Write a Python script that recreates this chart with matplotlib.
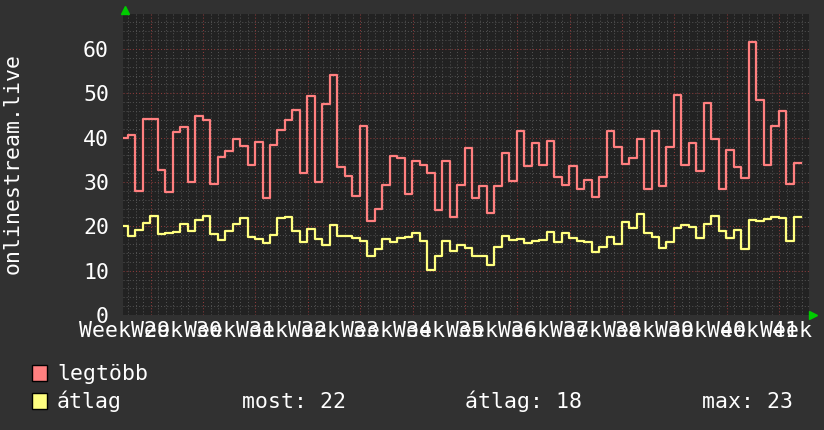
import numpy as np
import matplotlib
matplotlib.use('Agg')
import matplotlib.pyplot as plt
from matplotlib.patches import Rectangle

# ── Data (daily values, oldest first) ────────────────────────────────────

legtobb = [40.0, 40.5, 28.0, 44.2, 44.2, 32.6, 27.8, 41.3, 42.5, 30.1,
           44.8, 43.9, 29.6, 35.7, 37.1, 39.8, 38.1, 33.9, 39.1, 26.4,
           38.4, 41.8, 44.1, 46.3, 32.1, 49.3, 29.9, 47.6, 54.2, 33.3,
           31.4, 26.9, 42.7, 21.2, 23.9, 29.3, 35.9, 35.5, 27.4, 34.8,
           33.9, 32.1, 23.7, 34.8, 22.1, 29.4, 37.6, 26.5, 29.1, 23.1,
           29.2, 36.6, 30.3, 41.6, 33.5, 38.9, 33.9, 39.3, 31.2, 29.4,
           33.7, 28.5, 30.5, 26.7, 31.2, 41.4, 37.8, 34.1, 35.5, 39.7,
           28.5, 41.6, 29.0, 37.8, 49.7, 33.9, 38.9, 32.5, 47.9, 39.7,
           28.5, 37.2, 33.3, 30.8, 61.5, 48.4, 33.9, 42.7, 46.1, 29.6,
           34.4]

atlag = [20.1, 17.9, 19.2, 20.8, 22.3, 18.2, 18.4, 18.8, 20.5, 19.0,
         21.4, 22.3, 18.2, 16.9, 19.0, 20.5, 21.9, 17.5, 17.2, 16.2,
         18.1, 21.9, 22.1, 19.0, 16.5, 19.4, 17.2, 15.8, 20.3, 17.9,
         17.8, 17.3, 16.7, 13.3, 14.9, 17.2, 16.5, 17.4, 17.6, 18.6,
         16.8, 10.2, 13.2, 16.8, 14.5, 15.8, 15.2, 13.2, 13.2, 11.3,
         15.4, 17.8, 16.9, 17.2, 16.3, 16.7, 16.9, 18.7, 16.5, 18.6,
         17.4, 16.8, 16.5, 14.3, 15.4, 17.6, 16.1, 21.0, 19.7, 22.7,
         18.6, 17.6, 15.2, 16.5, 19.7, 20.4, 19.9, 17.4, 20.6, 22.4,
         19.0, 17.4, 19.2, 14.9, 21.5, 21.3, 21.7, 22.1, 21.9, 16.8,
         22.1]

weeks = list(range(29, 43))
first_day = -4.05          # day offset of first sample (0 = start of week 30)

# ── Style ────────────────────────────────────────────────────────────────

BACK = '#313131'
CANVAS = '#222222'
RED = '#ff7f7f'
YELLOW = '#ffff7f'
W, H = 824, 430

plt.rcParams['font.family'] = ['DejaVu Sans Mono', 'DejaVu Sans']
FS = 15.5

fig = plt.figure(figsize=(W / 100, H / 100), dpi=100, facecolor=BACK)
ax = fig.add_axes([123 / W, 1 - 315 / H, (809 - 123) / W, (315 - 14) / H])
ax.set_facecolor(CANVAS)
ax.set_xlim(-3.7, 88.0)
ax.set_ylim(0, 67.9)

# grid: minor dotted grey, major dotted red
for d in range(-3, 88):
    if d % 7:
        ax.axvline(d, color='#505050', lw=0.75, ls=(0, (1, 2)), zorder=1)
for v in range(2, 68, 2):
    if v % 10:
        ax.axhline(v, color='#505050', lw=0.75, ls=(0, (1, 2)), zorder=1)
for d in range(0, 88, 7):
    ax.axvline(d, color='#8c3a3a', lw=0.75, ls=(0, (1, 2)), zorder=2)
for v in range(10, 68, 10):
    ax.axhline(v, color='#8c3a3a', lw=0.75, ls=(0, (1, 2)), zorder=2)

# series as step lines
x = first_day + np.arange(len(legtobb) + 1)
ax.step(x, legtobb + legtobb[-1:], where='post', color=RED, lw=1.6, zorder=4)
ax.step(x, atlag + atlag[-1:], where='post', color=YELLOW, lw=1.6, zorder=4)

# axes decoration
for s in ax.spines.values():
    s.set_visible(False)
ax.set_yticks(range(0, 61, 10))
ax.tick_params(axis='y', length=0, pad=10, labelsize=FS, labelcolor='white')
ax.set_xticks([-3.5 + 7 * i for i in range(len(weeks))],
              [f'Week {w}' for w in weeks])
ax.tick_params(axis='x', length=0, pad=4.5, labelsize=FS, labelcolor='white')

ax.plot([0.003], [1.013], marker='^', ms=6, color='#00cc00',
        transform=ax.transAxes, clip_on=False)
ax.plot([1.006], [0.0], marker='>', ms=6, color='#00cc00',
        transform=ax.transAxes, clip_on=False)

# ── Labels / legend ──────────────────────────────────────────────────────

def px(xp, yp):
    return xp / W, 1 - yp / H

fig.text(*px(13, 164), 'onlinestream.live', color='white', fontsize=FS,
         rotation=90, ha='center', va='center')

for y0, col, name in [(365, '#ff8080', 'legtöbb'), (393, '#ffff80', 'átlag')]:
    fig.add_artist(Rectangle(px(32, y0 + 16), 15 / W, 16 / H,
                             facecolor=col, edgecolor='black', lw=1,
                             transform=fig.transFigure))
    fig.text(*px(57, y0 + 15), name, color='white', fontsize=FS, va='baseline')

fig.text(*px(242, 408), f'most: {atlag[-1]:.0f}', color='white',
         fontsize=FS, va='baseline')
fig.text(*px(465, 408), f'átlag: {np.mean(atlag):.0f}', color='white',
         fontsize=FS, va='baseline')
fig.text(*px(702, 408), f'max: {max(atlag):.0f}', color='white',
         fontsize=FS, va='baseline')

fig.savefig('out.png', dpi=100, facecolor=BACK)
